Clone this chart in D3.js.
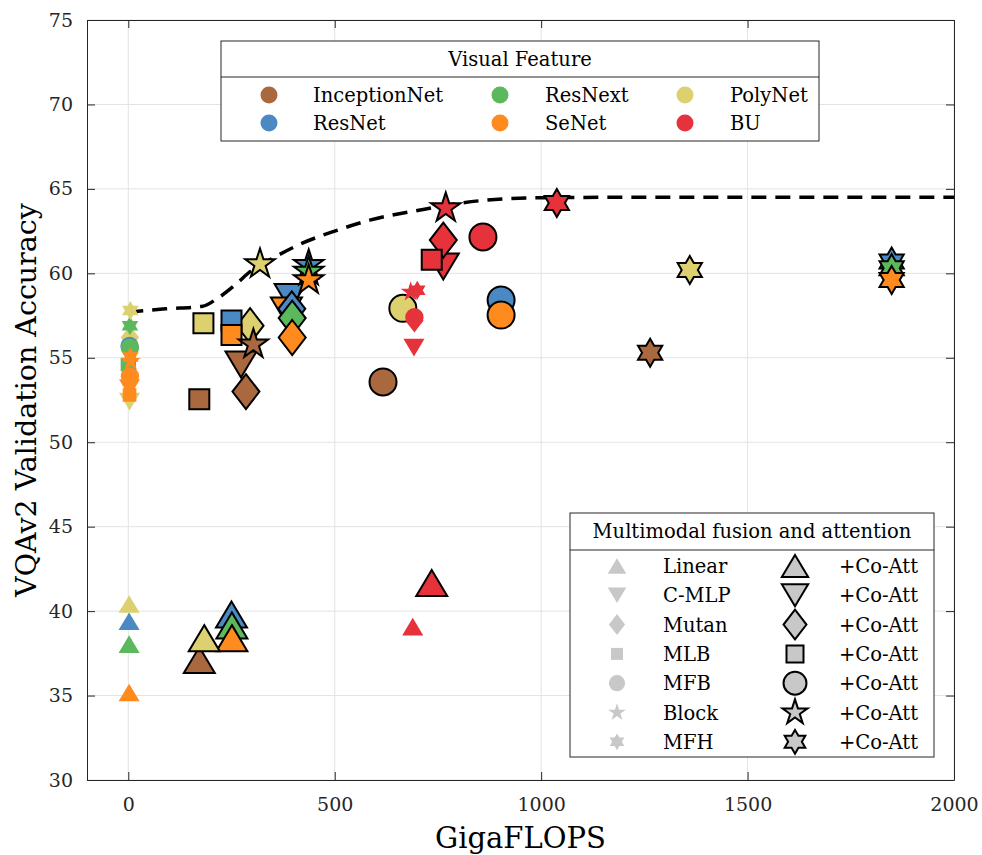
<!DOCTYPE html>
<html>
<head>
<meta charset="utf-8">
<script src="https://cdn.jsdelivr.net/npm/d3@7"></script>
<style>
  body { margin: 0; background: #fff; }
  svg { display: block; }
  text { font-family: "DejaVu Serif", "Liberation Serif", serif; fill: #000; }
  .tick text { font-size: 19px; fill: #262626; }
  .axis path, .axis line { stroke: #262626; }
</style>
</head>
<body>
<div id="chart"></div>
<script>
// Visual features (series) and fusion types
const features = ["InceptionNet", "ResNet", "ResNext", "SeNet", "PolyNet", "BU"];
const fusions = ["Linear", "C-MLP", "Mutan", "MLB", "MFB", "Block", "MFH"];

// rows: [fusion, co-attention (1) or not (0), GigaFLOPS, accuracy]
const inceptionNet = [
  ["Linear", 1, 172, 37.1],
  ["C-MLP", 1, 273, 54.6],
  ["Mutan", 1, 285, 53.0],
  ["MLB", 1, 172, 52.55],
  ["MFB", 1, 617, 53.57],
  ["Block", 1, 303, 55.8],
  ["MFH", 1, 1264, 55.3]
];
const resNet = [
  ["Linear", 0, 2, 39.4],
  ["MLB", 0, 2, 54.4],
  ["MFB", 0, 3, 55.7],
  ["Linear", 1, 250, 39.8],
  ["C-MLP", 1, 392, 58.6],
  ["Mutan", 1, 396, 57.9],
  ["MLB", 1, 250, 57.2],
  ["MFB", 1, 903, 58.42],
  ["Block", 1, 437, 60.5],
  ["MFH", 1, 1849, 60.7]
];
const resNext = [
  ["Linear", 0, 2, 38.05],
  ["MLB", 0, -2, 54.6],
  ["MFB", 0, 4, 55.6],
  ["MFH", 0, 4, 56.9],
  ["Linear", 1, 251, 39.15],
  ["Mutan", 1, 397, 57.35],
  ["Block", 1, 437, 60.1],
  ["MFH", 1, 1849, 60.3]
];
const seNet = [
  ["Linear", 0, 2, 35.18],
  ["C-MLP", 0, 3, 53.2],
  ["MLB", 0, 3, 52.8],
  ["MFB", 0, 4, 53.9],
  ["Block", 0, 6, 54.8],
  ["MFH", 0, 5, 55.05],
  ["Linear", 1, 251, 38.4],
  ["C-MLP", 1, 383, 57.8],
  ["Mutan", 1, 397, 56.2],
  ["MLB", 1, 250, 56.35],
  ["MFB", 1, 903, 57.53],
  ["Block", 1, 437, 59.6],
  ["MFH", 1, 1849, 59.6]
];
const polyNet = [
  ["Linear", 0, 2, 40.42],
  ["C-MLP", 0, 3, 52.4],
  ["Mutan", 0, 4, 56.2],
  ["MFH", 0, 5, 57.8],
  ["Linear", 1, 184, 38.4],
  ["Mutan", 1, 295, 56.9],
  ["MLB", 1, 182, 57.04],
  ["MFB", 1, 665, 57.93],
  ["Block", 1, 319, 60.55],
  ["MFH", 1, 1360, 60.2]
];
const bu = [
  ["Linear", 0, 689, 39.08],
  ["C-MLP", 0, 692, 55.6],
  ["Mutan", 0, 693, 57.2],
  ["MFB", 0, 693, 57.4],
  ["Block", 0, 684, 58.9],
  ["MFH", 0, 700, 59.0],
  ["Linear", 1, 735, 41.67],
  ["C-MLP", 1, 763, 60.4],
  ["Mutan", 1, 763, 61.97],
  ["MLB", 1, 735, 60.8],
  ["MFB", 1, 859, 62.15],
  ["Block", 1, 769, 63.87],
  ["MFH", 1, 1038, 64.17]
];
const seriesData = [inceptionNet, resNet, resNext, seNet, polyNet, bu];

// dashed envelope
const frontierGflops = [0, 90, 180, 215, 263, 295, 343, 423, 500, 585, 707, 869, 1004, 1200, 2000];
const frontierAcc = [57.7, 57.9, 58.05, 58.5, 59.4, 60.1, 60.8, 61.8, 62.5, 63.15, 63.75, 64.34, 64.48, 64.5, 64.5];

const xTicks = [0, 500, 1000, 1500, 2000];
const yTicks = [30, 35, 40, 45, 50, 55, 60, 65, 70, 75];

const colors = {
  "InceptionNet": "#AA683F", "ResNet": "#4A89C2", "ResNext": "#5CB85C",
  "SeNet": "#FF8A1E", "PolyNet": "#DDD06F", "BU": "#E6323A"
};

const width = 982, height = 855;
const margin = {top: 20, left: 87, right: 28, bottom: 75};

const svg = d3.select("#chart").append("svg")
  .attr("width", width).attr("height", height);

const xScale = d3.scaleLinear().domain([-100, 2000]).range([margin.left, width - margin.right]);
const yScale = d3.scaleLinear().domain([30, 75]).range([height - margin.bottom, margin.top]);

// marker shapes, k = scale
function markerPath(type, k) {
  const p = d3.path();
  if (type === "Linear" || type === "C-MLP") {
    const w = 31 * k, h = 26 * k, s = type === "Linear" ? 1 : -1;
    p.moveTo(0, -s * h / 2); p.lineTo(w / 2, s * h / 2); p.lineTo(-w / 2, s * h / 2); p.closePath();
  } else if (type === "Mutan") {
    const w = 27 * k, h = 35 * k;
    p.moveTo(0, -h / 2); p.lineTo(w / 2, 0); p.lineTo(0, h / 2); p.lineTo(-w / 2, 0); p.closePath();
  } else if (type === "MLB") {
    const s = 20 * k;
    p.rect(-s / 2, -s / 2, s, s);
  } else if (type === "MFB") {
    const r = 13.5 * k;
    p.moveTo(r, 0); p.arc(0, 0, r, 0, 2 * Math.PI); p.closePath();
  } else {
    const n = type === "Block" ? 5 : 6;
    const R = (type === "Block" ? 15.5 : 14) * k;
    const r = type === "Block" ? R * 0.382 : R * 0.577;
    for (let i = 0; i < 2 * n; i++) {
      const a = -Math.PI / 2 + i * Math.PI / n;
      const rr = i % 2 === 0 ? R : r;
      if (i === 0) p.moveTo(rr * Math.cos(a), rr * Math.sin(a));
      else p.lineTo(rr * Math.cos(a), rr * Math.sin(a));
    }
    p.closePath();
  }
  return p.toString();
}

// grid
svg.append("g").selectAll("line").data(xTicks).join("line")
  .attr("x1", d => xScale(d)).attr("x2", d => xScale(d))
  .attr("y1", margin.top).attr("y2", height - margin.bottom)
  .attr("stroke", "#E3E3E3").attr("stroke-width", 1);
svg.append("g").selectAll("line").data(yTicks).join("line")
  .attr("x1", margin.left).attr("x2", width - margin.right)
  .attr("y1", d => yScale(d)).attr("y2", d => yScale(d))
  .attr("stroke", "#E3E3E3").attr("stroke-width", 1);

// dashed line
const frontier = frontierGflops.map((g, i) => [g, frontierAcc[i]]);
svg.append("path")
  .datum(frontier)
  .attr("d", d3.line().x(d => xScale(d[0])).y(d => yScale(d[1])).curve(d3.curveMonotoneX))
  .attr("fill", "none")
  .attr("stroke", "#000")
  .attr("stroke-width", 3.5)
  .attr("stroke-dasharray", "15,9");

// points, drawn fusion by fusion
const points = [];
fusions.forEach(f => {
  seriesData.forEach((rows, si) => {
    rows.filter(r => r[0] === f).forEach(r => {
      points.push({feature: features[si], fusion: r[0], coatt: r[1], x: r[2], y: r[3]});
    });
  });
});

svg.append("g").selectAll("path").data(points).join("path")
  .attr("transform", d => `translate(${xScale(d.x)},${yScale(d.y)})`)
  .attr("d", d => markerPath(d.fusion, d.coatt ? 1 : 0.68))
  .attr("fill", d => colors[d.feature])
  .attr("stroke", d => d.coatt ? "#000" : "none")
  .attr("stroke-width", 2)
  .attr("stroke-linejoin", "miter");

// axes
svg.append("g").attr("class", "axis")
  .attr("transform", `translate(0,${height - margin.bottom})`)
  .call(d3.axisBottom(xScale).tickValues(xTicks).tickFormat(d3.format("d"))
    .tickSizeInner(-8).tickSizeOuter(0).tickPadding(18));
svg.append("g").attr("class", "axis")
  .attr("transform", `translate(0,${margin.top})`)
  .call(d3.axisTop(xScale).tickValues(xTicks).tickSizeInner(-8).tickSizeOuter(0).tickFormat(""));
svg.append("g").attr("class", "axis")
  .attr("transform", `translate(${margin.left},0)`)
  .call(d3.axisLeft(yScale).tickValues(yTicks).tickSizeInner(-8).tickSizeOuter(0).tickPadding(14));
svg.append("g").attr("class", "axis")
  .attr("transform", `translate(${width - margin.right},0)`)
  .call(d3.axisRight(yScale).tickValues(yTicks).tickSizeInner(-8).tickSizeOuter(0).tickFormat(""));
svg.selectAll(".axis .tick text").attr("font-family", "DejaVu Serif");

// axis labels
svg.append("text")
  .attr("x", (margin.left + width - margin.right) / 2)
  .attr("y", 848)
  .attr("text-anchor", "middle")
  .attr("font-size", 29)
  .attr("fill", "#262626")
  .text("GigaFLOPS");
svg.append("text")
  .attr("transform", "rotate(-90)")
  .attr("x", -(margin.top + height - margin.bottom) / 2)
  .attr("y", 36)
  .attr("text-anchor", "middle")
  .attr("font-size", 28.5)
  .attr("fill", "#262626")
  .text("VQAv2 Validation Accuracy");

// legend: visual feature
const lg1 = svg.append("g");
lg1.append("rect").attr("x", 221).attr("y", 41).attr("width", 598).attr("height", 100)
  .attr("fill", "#fff").attr("stroke", "#262626").attr("stroke-width", 1);
lg1.append("line").attr("x1", 221).attr("x2", 819).attr("y1", 77).attr("y2", 77)
  .attr("stroke", "#262626").attr("stroke-width", 1);
lg1.append("text").attr("x", 520).attr("y", 66).attr("text-anchor", "middle")
  .attr("font-size", 19.5).text("Visual Feature");
const colMarker = [269, 500, 685], colLabel = [313, 545, 730], rowY = [95, 123];
features.forEach((f, i) => {
  const c = Math.floor(i / 2), r = i % 2;
  lg1.append("circle").attr("cx", colMarker[c]).attr("cy", rowY[r]).attr("r", 8.5)
    .attr("fill", colors[f]);
  lg1.append("text").attr("x", colLabel[c]).attr("y", rowY[r] + 7)
    .attr("font-size", 19.5).text(f);
});

// legend: fusion
const lg2 = svg.append("g");
lg2.append("rect").attr("x", 570).attr("y", 513).attr("width", 364).attr("height", 244)
  .attr("fill", "#fff").attr("stroke", "#262626").attr("stroke-width", 1);
lg2.append("line").attr("x1", 570).attr("x2", 934).attr("y1", 550).attr("y2", 550)
  .attr("stroke", "#262626").attr("stroke-width", 1);
lg2.append("text").attr("x", 752).attr("y", 538).attr("text-anchor", "middle")
  .attr("font-size", 19.5).text("Multimodal fusion and attention");
fusions.forEach((f, i) => {
  const y = 566 + i * 29.3;
  lg2.append("path").attr("transform", `translate(617,${y})`)
    .attr("d", markerPath(f, 0.6)).attr("fill", "#C8C8C8");
  lg2.append("text").attr("x", 663).attr("y", y + 7).attr("font-size", 19.5).text(f);
  lg2.append("path").attr("transform", `translate(795,${y})`)
    .attr("d", markerPath(f, 0.85)).attr("fill", "#C8C8C8")
    .attr("stroke", "#000").attr("stroke-width", 2);
  lg2.append("text").attr("x", 839).attr("y", y + 7).attr("font-size", 19.5).text("+Co-Att");
});
</script>
</body>
</html>
